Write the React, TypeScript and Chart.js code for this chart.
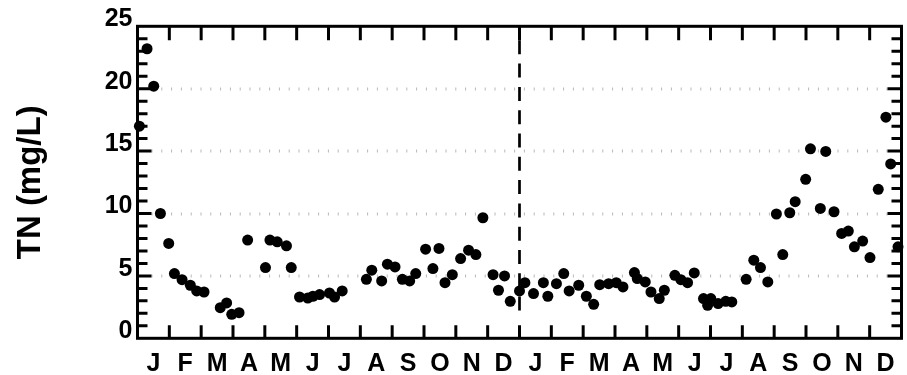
import React, { useEffect, useRef } from "react";
import { Chart, registerables } from "chart.js";

Chart.register(...registerables);

// ---- data ----
const monthLabels = [
  "J", "F", "M", "A", "M", "J", "J", "A", "S", "O", "N", "D",
  "J", "F", "M", "A", "M", "J", "J", "A", "S", "O", "N", "D",
];
const yTickValues = [0, 5, 10, 15, 20, 25];
const gridValues = [5, 10, 15, 20];
const dividerMonth = 12;

// sample time, in months from the start of the first January
const sampleMonth = [
  0.06, 0.3, 0.51, 0.72, 0.98, 1.16, 1.4, 1.66, 1.86, 2.09,
  2.6, 2.8, 2.96, 3.19, 3.46, 4.02, 4.16, 4.39, 4.68, 4.83,
  5.09, 5.35, 5.51, 5.72, 6.03, 6.19, 6.43, 7.19, 7.36, 7.67,
  7.85, 8.09, 8.32, 8.55, 8.74, 9.05, 9.28, 9.47, 9.66, 9.89,
  10.15, 10.4, 10.63, 10.85, 11.17, 11.34, 11.53, 11.71, 12.0, 12.17,
  12.44, 12.75, 12.89, 13.16, 13.39, 13.56, 13.86, 14.1, 14.33, 14.52,
  14.8, 15.04, 15.25, 15.61, 15.7, 15.95, 16.13, 16.39, 16.55, 16.88,
  17.07, 17.28, 17.49, 17.78, 17.91, 18.01, 18.24, 18.48, 18.67, 19.12,
  19.36, 19.57, 19.8, 20.07, 20.27, 20.49, 20.66, 20.99, 21.14, 21.45,
  21.62, 21.88, 22.12, 22.33, 22.52, 22.78, 23.01, 23.27, 23.51, 23.66,
  23.89,
];
const tnValues = [
  17.0, 23.2, 20.2, 10.0, 7.6, 5.19, 4.7, 4.25, 3.8, 3.71,
  2.45, 2.83, 1.92, 2.05, 7.87, 5.67, 7.87, 7.73, 7.41, 5.67,
  3.31, 3.23, 3.37, 3.5, 3.63, 3.31, 3.8, 4.73, 5.46, 4.6,
  5.94, 5.72, 4.73, 4.6, 5.19, 7.14, 5.59, 7.2, 4.46, 5.1,
  6.39, 7.06, 6.71, 9.66, 5.1, 3.85, 5.0, 2.96, 3.8, 4.46,
  3.58, 4.46, 3.37, 4.38, 5.19, 3.8, 4.25, 3.37, 2.72, 4.3,
  4.38, 4.46, 4.12, 5.27, 4.79, 4.52, 3.71, 3.18, 3.85, 5.05,
  4.7, 4.46, 5.24, 3.18, 2.64, 3.18, 2.78, 2.96, 2.91, 4.73,
  6.26, 5.67, 4.52, 9.96, 6.71, 10.06, 10.95, 12.74, 15.18, 10.41,
  14.97, 10.14, 8.4, 8.59, 7.33, 7.79, 6.47, 11.94, 17.72, 13.97,
  7.33,
];

const FONT = "'Liberation Sans', Arial, Helvetica, sans-serif";

const framePlugin = {
  id: "frameTicks",
  beforeDatasetsDraw(chart: any) {
    const { ctx, chartArea: a, scales } = chart;
    const x = scales.x;
    const y = scales.y;
    ctx.save();
    // dotted horizontal grid
    ctx.strokeStyle = "#b8b8b8";
    ctx.lineWidth = 3;
    ctx.setLineDash([1, 8.8]);
    for (const v of gridValues) {
      const py = Math.round(y.getPixelForValue(v));
      ctx.beginPath();
      ctx.moveTo(a.left + 14, py);
      ctx.lineTo(a.right - 12, py);
      ctx.stroke();
    }
    // dashed divider between the two years
    ctx.strokeStyle = "#000";
    ctx.lineWidth = 2.7;
    ctx.setLineDash([14, 9.3]);
    const dx = x.getPixelForValue(dividerMonth);
    ctx.beginPath();
    ctx.moveTo(dx, a.top + 14);
    ctx.lineTo(dx, a.bottom - 25);
    ctx.stroke();
    ctx.setLineDash([]);
    // inward ticks
    ctx.lineWidth = 3;
    ctx.beginPath();
    for (let m = 1; m < monthLabels.length; m++) {
      const px = x.getPixelForValue(m);
      ctx.moveTo(px, a.top);
      ctx.lineTo(px, a.top + 14);
      ctx.moveTo(px, a.bottom);
      ctx.lineTo(px, a.bottom - 13);
    }
    for (let v = 1; v < 25; v++) {
      const py = y.getPixelForValue(v);
      const len = v % 5 === 0 ? 14 : 10;
      ctx.moveTo(a.left, py);
      ctx.lineTo(a.left + len, py);
      ctx.moveTo(a.right, py);
      ctx.lineTo(a.right - len, py);
    }
    ctx.stroke();
    // frame
    ctx.strokeRect(a.left, a.top, a.right - a.left, a.bottom - a.top);
    ctx.restore();
  },
};

export default function App() {
  const canvasRef = useRef<HTMLCanvasElement | null>(null);

  useEffect(() => {
    if (!canvasRef.current) return;
    const points = sampleMonth.map((m, i) => ({ x: m, y: tnValues[i] }));
    const monthCenters = monthLabels.map((_, i) => i + 0.5);
    const chart = new Chart(canvasRef.current, {
      type: "scatter",
      data: {
        datasets: [
          {
            data: points,
            backgroundColor: "#000",
            borderColor: "#000",
            borderWidth: 0,
            pointRadius: 5.5,
            clip: false as any,
          },
        ],
      },
      plugins: [framePlugin],
      options: {
        animation: false,
        responsive: true,
        maintainAspectRatio: false,
        layout: { padding: { top: 26.3, right: 1.5, left: 0, bottom: 0 } },
        plugins: {
          legend: { display: false },
          tooltip: { enabled: false },
        },
        scales: {
          x: {
            type: "linear",
            min: 0,
            max: 24,
            grid: { display: false, drawTicks: false },
            border: { display: false },
            afterBuildTicks: (scale: any) => {
              scale.ticks = monthCenters.map((v) => ({ value: v }));
            },
            afterFit: (scale: any) => {
              scale.height = 36.7;
            },
            ticks: {
              autoSkip: false,
              maxRotation: 0,
              padding: 11,
              color: "#000",
              font: { family: FONT, size: 25, weight: "bold" },
              callback: (_v: any, i: number) => monthLabels[i],
            },
          },
          y: {
            type: "linear",
            min: 0,
            max: 25,
            grid: { display: false, drawTicks: false },
            border: { display: false },
            afterBuildTicks: (scale: any) => {
              scale.ticks = yTickValues.map((v) => ({ value: v }));
            },
            afterFit: (scale: any) => {
              scale.width = 137.5;
            },
            ticks: {
              padding: 5,
              labelOffset: -7,
              color: "#000",
              font: { family: FONT, size: 25, weight: "bold" },
            },
            title: {
              display: true,
              text: "TN (mg/L)",
              color: "#000",
              font: { family: FONT, size: 33, weight: "bold" },
              padding: { top: 11, bottom: 0 },
            },
          },
        },
      },
    });
    return () => chart.destroy();
  }, []);

  return (
    <div style={{ position: "fixed", left: 0, top: 0, width: 907, height: 375 }}>
      <canvas ref={canvasRef} />
    </div>
  );
}
